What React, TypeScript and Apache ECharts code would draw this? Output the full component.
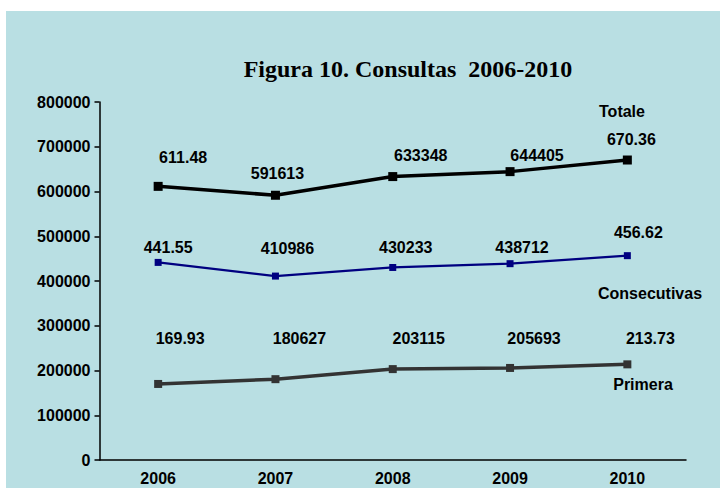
import React, { useEffect, useRef } from "react";
import * as echarts from "echarts";

const years = ["2006", "2007", "2008", "2009", "2010"];
const totale = [611480, 591613, 633348, 644405, 670360];
const consecutivas = [441550, 410986, 430233, 438712, 456620];
const primera = [169930, 180627, 203115, 205693, 213730];
const totaleLabels = ["611.48", "591613", "633348", "644405", "670.36"];
const consecutivasLabels = ["441.55", "410986", "430233", "438712", "456.62"];
const primeraLabels = ["169.93", "180627", "203115", "205693", "213.73"];

// label offsets (styling): [dx, dy] from each point
const totaleOffsets = [[25, -29], [2, -22], [28, -21], [27, -16], [4, -21]];
const consecutivasOffsets = [[10, -15], [12, -28], [13, -20], [12, -16], [11, -23]];
const primeraOffsets = [[22, -45], [24, -41], [26, -31], [24, -29], [23, -26]];

const BG = "#b9dfe3";
const FONT = "Liberation Sans, Arial, sans-serif";
const FS = 16;

function items(values: number[], labels: string[], offsets: number[][]) {
  return values.map((v, i) => ({
    value: v,
    label: { offset: offsets[i], formatter: labels[i] },
  }));
}

const labelStyle = {
  show: true,
  position: "inside",
  align: "center",
  verticalAlign: "middle",
  color: "#000",
  fontWeight: "bold",
  fontSize: FS,
  fontFamily: FONT,
};

function nameText(text: string, x: number, y: number) {
  return {
    type: "text",
    x,
    y,
    style: {
      text,
      align: "center",
      verticalAlign: "middle",
      font: `bold ${FS}px ${FONT}`,
      fill: "#000",
    },
  };
}

export default function App() {
  const ref = useRef<HTMLDivElement>(null);
  useEffect(() => {
    const chart = echarts.init(ref.current!, null, { renderer: "svg" });
    chart.setOption({
      animation: false,
      backgroundColor: "#ffffff",
      title: {
        text: "Figura 10. Consultas  2006-2010",
        left: 403,
        top: 52,
        textAlign: "center",
        textStyle: {
          fontFamily: "Liberation Serif, Times New Roman, serif",
          fontWeight: "bold",
          fontSize: 24,
          color: "#000",
        },
      },
      graphic: [
        {
          type: "rect",
          z: -100,
          silent: true,
          shape: { x: 6, y: 11, width: 714, height: 477 },
          style: { fill: BG },
        },
        nameText("Totale", 622, 111),
        nameText("Consecutivas", 650, 293),
        nameText("Primera", 643, 384),
      ],
      grid: { left: 99.5, right: 34, top: 102, bottom: 28 },
      xAxis: {
        type: "category",
        data: years,
        boundaryGap: true,
        axisLine: { lineStyle: { color: "#000", width: 1.5 } },
        axisTick: { show: false },
        axisLabel: {
          color: "#000",
          fontWeight: "bold",
          fontSize: FS,
          fontFamily: FONT,
          margin: 10,
        },
      },
      yAxis: {
        type: "value",
        min: 0,
        max: 800000,
        interval: 100000,
        splitLine: { show: false },
        axisLine: { show: true, lineStyle: { color: "#000", width: 1.5 } },
        axisTick: { show: true, length: 5, lineStyle: { color: "#000", width: 1.5 } },
        axisLabel: {
          color: "#000",
          fontWeight: "bold",
          fontSize: FS,
          fontFamily: FONT,
          margin: 9,
          formatter: (v: number) => String(v),
        },
      },
      series: [
        {
          name: "Totale",
          type: "line",
          data: items(totale, totaleLabels, totaleOffsets),
          symbol: "rect",
          symbolSize: 9,
          lineStyle: { color: "#000", width: 3.5 },
          itemStyle: { color: "#000" },
          label: labelStyle,
        },
        {
          name: "Consecutivas",
          type: "line",
          data: items(consecutivas, consecutivasLabels, consecutivasOffsets),
          symbol: "rect",
          symbolSize: 7,
          lineStyle: { color: "#000080", width: 2.2 },
          itemStyle: { color: "#000080" },
          label: labelStyle,
        },
        {
          name: "Primera",
          type: "line",
          data: items(primera, primeraLabels, primeraOffsets),
          symbol: "rect",
          symbolSize: 8,
          lineStyle: { color: "#333333", width: 3.5 },
          itemStyle: { color: "#333333" },
          label: labelStyle,
        },
      ],
    });
    return () => chart.dispose();
  }, []);
  return (
    <div
      ref={ref}
      style={{ position: "absolute", left: 0, top: 0, width: 720, height: 488 }}
    />
  );
}
